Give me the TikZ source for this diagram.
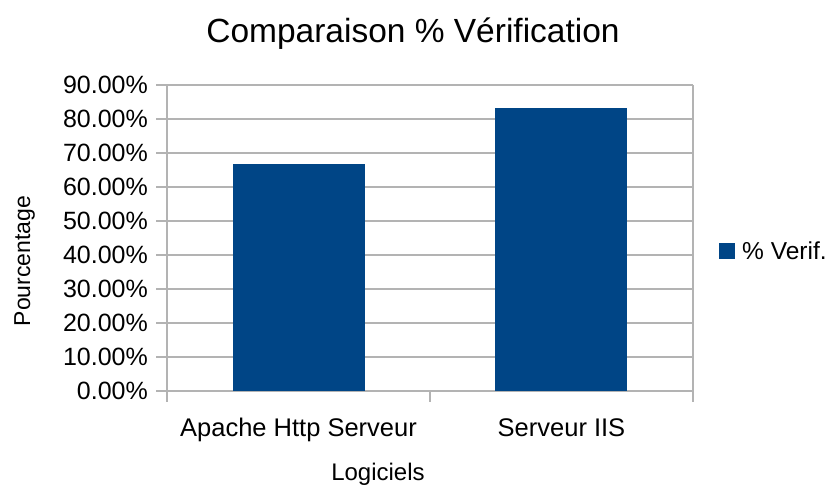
\documentclass[tikz,border=0pt]{standalone}
\usepackage{fontspec}
\setmainfont{Liberation Sans}
\definecolor{barblue}{HTML}{004586}
\definecolor{gridgray}{HTML}{B3B3B3}
\begin{document}
\begin{tikzpicture}[x=1pt,y=-1pt,
  grid/.style={draw=gridgray,line width=1.3pt},
  ylab/.style={anchor=east,inner sep=0pt,font=\fontsize{25}{25}\selectfont},
  catlab/.style={anchor=base,inner sep=0pt,font=\fontsize{25.5}{25.5}\selectfont},
  bar/.style={fill=barblue}]
\useasboundingbox (0,0) rectangle (835,485);
% grid lines and y labels
\foreach \v [count=\i from 0] in {0.00,10.00,20.00,30.00,40.00,50.00,60.00,70.00,80.00,90.00}{
  \pgfmathsetmacro{\yy}{391-34*\i}
  \draw[grid] (156,\yy) -- (693,\yy);
  \node[ylab] (yl\i) at (148,\yy) {\v\%};
}
% axes frame
\draw[grid] (167,85) -- (167,402);
\draw[grid] (693,85) -- (693,402);
\draw[grid] (430,391) -- (430,402);
% bars
\fill[bar] (233,164) rectangle (365,391);
\fill[bar] (495,108) rectangle (627,391);
% category labels
\node[catlab] (c1) at (298.5,436) {Apache Http Serveur};
\node[catlab] (c2) at (561.5,436) {Serveur IIS};
% title
\node[anchor=base,inner sep=0pt,font=\fontsize{33.5}{33.5}\selectfont] (title) at (413,42) {Comparaison \% Vérification};
% axis titles
\node[anchor=base,inner sep=0pt,font=\fontsize{24}{24}\selectfont] (xt) at (378,480) {Logiciels};
\node[anchor=base,inner sep=0pt,rotate=90,font=\fontsize{23}{23}\selectfont] (yt) at (30,261) {Pourcentage};
% legend
\fill[bar] (719,243) rectangle (735,259);
\node[anchor=west,inner sep=0pt,font=\fontsize{24.5}{24.5}\selectfont] (leg) at (742,251) {\% Verif.};
\end{tikzpicture}
\end{document}
